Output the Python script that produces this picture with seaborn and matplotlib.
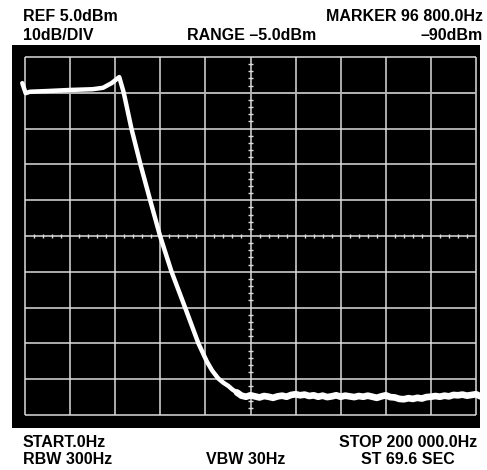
import numpy as np
import pandas as pd
import matplotlib
matplotlib.use('Agg')
import matplotlib.pyplot as plt
import seaborn as sns

# ==================== data ====================
# frequency in kHz, level in dBm
trace_khz = [-1.2, 0.3, 2.2, 10.0, 20.0, 30.0, 34.6, 38.4, 41.0, 41.8, 43.8,
             47.2, 51.2, 55.5, 59.9, 65.0, 71.0, 76.9, 80.6, 83.0, 85.7,
             88.0, 90.2, 92.0, 94.0]
trace_dbm = [-2.3, -5.1, -4.7, -4.5, -4.2, -4.0, -3.6, -2.3, -1.0, -0.6, -5.0,
             -15.0, -25.0, -35.0, -45.0, -55.0, -65.0, -75.0, -80.0, -82.6, -84.8,
             -86.0, -86.9, -87.9, -88.7]

floor_khz = [94, 96, 98, 100, 102, 104, 106, 108, 110, 112, 114, 116, 118, 120,
             122, 124, 126, 128, 130, 132, 134, 136, 138, 140, 142, 144, 146, 148,
             150, 152, 154, 156, 158, 160, 162, 164, 166, 168, 170, 172, 174, 176,
             178, 180, 182, 184, 186, 188, 190, 192, 194, 196, 198, 200, 202]
floor_dbm = [-88.7, -89.6, -89.9, -89.5, -89.8, -90.1, -89.7, -89.9, -90.2, -89.8,
             -89.6, -89.9, -89.4, -89.2, -89.5, -89.3, -89.7, -89.5, -89.9, -89.6,
             -90.0, -89.8, -89.5, -89.9, -89.6, -89.8, -90.0, -89.7, -89.9, -89.6,
             -89.9, -90.2, -89.8, -89.5, -90.0, -90.1, -90.5, -90.6, -90.3, -90.5,
             -90.2, -90.4, -90.0, -89.9, -89.7, -89.9, -89.6, -89.8, -89.4, -89.5,
             -89.3, -89.6, -89.4, -89.2, -89.8]

# screen scale: 10 divisions each way
x_divs = [0, 20, 40, 60, 80, 100, 120, 140, 160, 180, 200]
y_divs = [5, -5, -15, -25, -35, -45, -55, -65, -75, -85, -95]

top_left = ['REF 5.0dBm', '10dB/DIV']
top_mid = 'RANGE \u20135.0dBm'
top_right = ['MARKER 96 800.0Hz', '\u201390dBm']
bot_left = ['START.0Hz', 'RBW 300Hz']
bot_mid = 'VBW 30Hz'
bot_right = ['STOP 200 000.0Hz', 'ST 69.6 SEC']

# ==================== figure ====================
sns.set_theme(style='dark')
plt.rcParams['font.family'] = ['Liberation Sans', 'DejaVu Sans']

W, H = 487, 470
fig = plt.figure(figsize=(W / 100, H / 100), dpi=100)
fig.patch.set_facecolor('white')

# black screen: x 12..480, y 45..428 (pixels)
ax = fig.add_axes([12 / W, 1 - 428 / H, 468 / W, 383 / H])
ax.set_facecolor('black')
for s in ax.spines.values():
    s.set_visible(False)
ax.set_xticks([])
ax.set_yticks([])
ax.grid(False)

kpp = 200 / 451   # kHz per pixel
dpp = 100 / 358   # dB per pixel
ax.set_xlim(-13 * kpp, 200 + 4 * kpp)
ax.set_ylim(-95 - 13 * dpp, 5 + 12 * dpp)

grid_col = '#dcdcdc'
ax.vlines(x_divs, y_divs[-1], y_divs[0], color=grid_col, lw=1.1, zorder=1)
ax.hlines(y_divs, x_divs[0], x_divs[-1], color=grid_col, lw=1.1, zorder=1)
ax.hlines([-5], 0, 200, color='#b0b0b0', lw=1.3, zorder=1)

# minor ticks along the centre cross
minor_x = [x for x in range(0, 201, 4) if x % 20]
minor_y = [y for y in range(-95, 6, 2) if (y + 95) % 10]
ax.vlines(minor_x, -45 - 2.3 * dpp, -45 + 2.3 * dpp, color=grid_col, lw=1.0, zorder=1)
ax.hlines(minor_y, 100 - 3 * kpp, 100 + 3 * kpp, color=grid_col, lw=1.0, zorder=1)

# trace
df = pd.DataFrame({'khz': trace_khz + floor_khz, 'dbm': trace_dbm + floor_dbm})
sns.lineplot(data=df, x='khz', y='dbm', ax=ax, color='white', lw=3.2,
             sort=False, estimator=None, zorder=3, clip_on=False)
fl = pd.DataFrame({'khz': floor_khz, 'dbm': floor_dbm})
sns.lineplot(data=fl, x='khz', y='dbm', ax=ax, color='white', lw=4.8,
             sort=False, estimator=None, zorder=3, clip_on=False)
ax.set_xlabel('')
ax.set_ylabel('')

# annotations
kw = dict(fontsize=11.5, fontweight='bold', color='black', va='baseline')


def put(x, y, s, ha):
    fig.text(x / W, 1 - y / H, s, ha=ha, **kw)


put(23, 20.7, top_left[0], 'left')
put(23, 40, top_left[1], 'left')
put(251.5, 40, top_mid, 'center')
put(483, 20.7, top_right[0], 'right')
put(483, 40, top_right[1], 'right')
put(23, 446.7, bot_left[0], 'left')
put(23, 464, bot_left[1], 'left')
put(246, 464, bot_mid, 'center')
put(408, 446.7, bot_right[0], 'center')
put(408, 464, bot_right[1], 'center')

fig.savefig('out.png', dpi=100, facecolor='white')
